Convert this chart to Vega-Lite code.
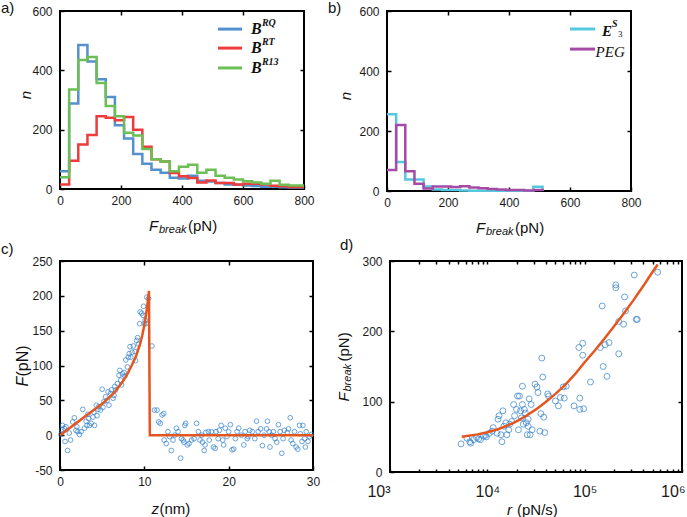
{
"$schema": "https://vega.github.io/schema/vega-lite/v6.json",
"background": "white",
"padding": 0,
"config": {
  "view": {"stroke": "#000", "strokeWidth": 2},
  "font": "Liberation Sans",
  "axis": {"domain": false, "grid": false, "tickColor": "#000", "tickWidth": 1.5, "tickSize": -4, "labelFont": "Liberation Sans", "labelFontSize": 12, "labelColor": "#1a1a1a", "labelFlush": false, "labelOverlap": false},
  "axisX": {"labelPadding": 10},
  "axisY": {"labelPadding": 12}
},
"datasets": {
  "histA": [
    {"s":"RQ","x":0,"n":60},{"s":"RQ","x":30,"n":288},{"s":"RQ","x":60,"n":485},{"s":"RQ","x":90,"n":430},{"s":"RQ","x":120,"n":370},{"s":"RQ","x":150,"n":310},{"s":"RQ","x":180,"n":215},{"s":"RQ","x":210,"n":170},{"s":"RQ","x":240,"n":118},{"s":"RQ","x":270,"n":85},{"s":"RQ","x":300,"n":65},{"s":"RQ","x":330,"n":55},{"s":"RQ","x":360,"n":38},{"s":"RQ","x":390,"n":35},{"s":"RQ","x":420,"n":45},{"s":"RQ","x":450,"n":28},{"s":"RQ","x":480,"n":25},{"s":"RQ","x":510,"n":20},{"s":"RQ","x":540,"n":15},{"s":"RQ","x":570,"n":14},{"s":"RQ","x":600,"n":12},{"s":"RQ","x":630,"n":10},{"s":"RQ","x":660,"n":8},{"s":"RQ","x":690,"n":8},{"s":"RQ","x":720,"n":6},{"s":"RQ","x":750,"n":5},{"s":"RQ","x":780,"n":5},{"s":"RQ","x":800,"n":5},
    {"s":"RT","x":0,"n":15},{"s":"RT","x":30,"n":95},{"s":"RT","x":60,"n":150},{"s":"RT","x":90,"n":182},{"s":"RT","x":120,"n":245},{"s":"RT","x":150,"n":240},{"s":"RT","x":180,"n":232},{"s":"RT","x":210,"n":243},{"s":"RT","x":240,"n":200},{"s":"RT","x":270,"n":142},{"s":"RT","x":300,"n":100},{"s":"RT","x":330,"n":93},{"s":"RT","x":360,"n":54},{"s":"RT","x":390,"n":43},{"s":"RT","x":420,"n":37},{"s":"RT","x":450,"n":22},{"s":"RT","x":480,"n":29},{"s":"RT","x":510,"n":20},{"s":"RT","x":540,"n":20},{"s":"RT","x":570,"n":15},{"s":"RT","x":600,"n":18},{"s":"RT","x":630,"n":18},{"s":"RT","x":660,"n":15},{"s":"RT","x":690,"n":11},{"s":"RT","x":720,"n":9},{"s":"RT","x":750,"n":7},{"s":"RT","x":780,"n":7},{"s":"RT","x":800,"n":7},
    {"s":"R13","x":0,"n":40},{"s":"R13","x":30,"n":335},{"s":"R13","x":60,"n":435},{"s":"R13","x":90,"n":445},{"s":"R13","x":120,"n":357},{"s":"R13","x":150,"n":280},{"s":"R13","x":180,"n":245},{"s":"R13","x":210,"n":190},{"s":"R13","x":240,"n":180},{"s":"R13","x":270,"n":135},{"s":"R13","x":300,"n":100},{"s":"R13","x":330,"n":93},{"s":"R13","x":360,"n":60},{"s":"R13","x":390,"n":75},{"s":"R13","x":420,"n":82},{"s":"R13","x":450,"n":55},{"s":"R13","x":480,"n":65},{"s":"R13","x":510,"n":45},{"s":"R13","x":540,"n":38},{"s":"R13","x":570,"n":32},{"s":"R13","x":600,"n":26},{"s":"R13","x":630,"n":22},{"s":"R13","x":660,"n":18},{"s":"R13","x":690,"n":28},{"s":"R13","x":720,"n":14},{"s":"R13","x":750,"n":12},{"s":"R13","x":780,"n":12},{"s":"R13","x":800,"n":12}
  ],
  "legendA": [{"s":"RQ","y":539,"sup":"RQ"},{"s":"RT","y":475,"sup":"RT"},{"s":"R13","y":408,"sup":"R13"}],
  "histB": [
    {"t":"E","x":0,"n":256},{"t":"E","x":30,"n":97},{"t":"E","x":60,"n":38},{"t":"E","x":90,"n":38},{"t":"E","x":120,"n":15},{"t":"E","x":150,"n":5},{"t":"E","x":180,"n":3},{"t":"E","x":210,"n":3},{"t":"E","x":240,"n":2},{"t":"E","x":270,"n":1},{"t":"E","x":300,"n":1},{"t":"E","x":330,"n":1},{"t":"E","x":360,"n":1},{"t":"E","x":390,"n":1},{"t":"E","x":420,"n":1},{"t":"E","x":450,"n":1},{"t":"E","x":480,"n":14},{"t":"E","x":510,"n":0},
    {"t":"PEG","x":0,"n":70},{"t":"PEG","x":30,"n":220},{"t":"PEG","x":60,"n":66},{"t":"PEG","x":90,"n":24},{"t":"PEG","x":120,"n":8},{"t":"PEG","x":150,"n":15},{"t":"PEG","x":180,"n":15},{"t":"PEG","x":210,"n":13},{"t":"PEG","x":240,"n":16},{"t":"PEG","x":270,"n":12},{"t":"PEG","x":300,"n":9},{"t":"PEG","x":330,"n":7},{"t":"PEG","x":360,"n":5},{"t":"PEG","x":390,"n":3},{"t":"PEG","x":420,"n":3},{"t":"PEG","x":450,"n":2},{"t":"PEG","x":480,"n":3},{"t":"PEG","x":510,"n":0}
  ],
  "legendB": [{"t":"E","y":540},{"t":"PEG","y":473}],
  "scatC": [
    {"z":0.1,"F":1},{"z":0.2,"F":8},{"z":0.3,"F":14},{"z":0.5,"F":10},{"z":0.6,"F":-9},{"z":0.7,"F":12},{"z":0.9,"F":-22},{"z":1.1,"F":3},{"z":1.25,"F":-7},{"z":1.5,"F":19},{"z":1.7,"F":25},{"z":1.9,"F":7},{"z":2.0,"F":12},{"z":2.1,"F":5},{"z":2.3,"F":1},{"z":2.5,"F":5},{"z":2.7,"F":37},{"z":2.9,"F":10},{"z":3.1,"F":20},{"z":3.2,"F":14},{"z":3.3,"F":30},{"z":3.4,"F":24},{"z":3.5,"F":14},{"z":3.7,"F":17},{"z":3.9,"F":26},{"z":4.0,"F":33},{"z":4.1,"F":14},{"z":4.3,"F":43},{"z":4.4,"F":28},{"z":4.5,"F":37},{"z":4.6,"F":41},{"z":4.8,"F":36},{"z":5.0,"F":66},{"z":5.1,"F":40},{"z":5.2,"F":48},{"z":5.4,"F":55},{"z":5.6,"F":50},{"z":5.7,"F":62},{"z":5.8,"F":43},{"z":6.0,"F":60},{"z":6.1,"F":65},{"z":6.3,"F":53},{"z":6.4,"F":57},{"z":6.5,"F":70},{"z":6.6,"F":65},{"z":6.8,"F":74},{"z":7.0,"F":86},{"z":7.1,"F":93},{"z":7.2,"F":79},{"z":7.3,"F":72},{"z":7.4,"F":88},{"z":7.6,"F":90},{"z":7.7,"F":85},{"z":7.8,"F":108},{"z":8.0,"F":98},{"z":8.1,"F":112},{"z":8.2,"F":117},{"z":8.3,"F":127},{"z":8.4,"F":112},{"z":8.55,"F":119},{"z":8.7,"F":128},{"z":8.9,"F":120},{"z":8.95,"F":107},{"z":9.1,"F":136},{"z":9.2,"F":140},{"z":9.3,"F":131},{"z":9.45,"F":160},{"z":9.5,"F":177},{"z":9.7,"F":175},{"z":9.85,"F":172},{"z":9.9,"F":185},{"z":10.0,"F":160},{"z":10.1,"F":165},{"z":10.2,"F":160},{"z":10.3,"F":198},{"z":10.5,"F":196},{"z":10.9,"F":128},{"z":11.2,"F":36},{"z":11.5,"F":36},{"z":11.7,"F":19},{"z":11.9,"F":17},{"z":12.1,"F":29},{"z":12.3,"F":31},{"z":12.35,"F":-7},{"z":12.6,"F":-12},{"z":12.8,"F":5},{"z":13.0,"F":-2},{"z":13.2,"F":-22},{"z":13.4,"F":-7},{"z":13.6,"F":0},{"z":13.8,"F":10},{"z":14.0,"F":5},{"z":14.3,"F":-33},{"z":14.4,"F":-5},{"z":14.6,"F":-7},{"z":14.8,"F":14},
    {"z":14.9,"F":17},{"z":14.7,"F":-10},{"z":15.1,"F":-14},{"z":15.3,"F":-12},{"z":15.6,"F":-7},{"z":15.9,"F":-5},{"z":16.2,"F":17},{"z":16.4,"F":5},{"z":16.6,"F":-7},{"z":16.8,"F":0},{"z":16.9,"F":-10},{"z":17.1,"F":-22},{"z":17.2,"F":-14},{"z":17.3,"F":4},{"z":17.6,"F":5},{"z":17.7,"F":-7},{"z":17.97,"F":5},{"z":18.2,"F":-17},{"z":18.4,"F":-19},{"z":18.5,"F":5},{"z":18.75,"F":-5},{"z":18.9,"F":7},{"z":19.1,"F":14},{"z":19.3,"F":-7},{"z":19.4,"F":-14},{"z":19.6,"F":10},{"z":19.8,"F":-2},{"z":20.0,"F":5},{"z":20.2,"F":15},{"z":20.4,"F":-21},{"z":20.6,"F":-20},{"z":20.8,"F":-5},{"z":21.0,"F":5},{"z":21.2,"F":10},{"z":21.5,"F":0},{"z":21.8,"F":-14},{"z":21.95,"F":5},{"z":22.2,"F":-5},{"z":22.3,"F":-2},{"z":22.5,"F":7},{"z":22.8,"F":5},{"z":23.1,"F":-5},{"z":23.3,"F":20},{"z":23.5,"F":5},{"z":23.8,"F":9},{"z":24.0,"F":-15},{"z":24.2,"F":0},{"z":24.5,"F":9},{"z":24.6,"F":20},{"z":24.8,"F":5},{"z":24.9,"F":-17},{"z":25.1,"F":0},{"z":25.3,"F":5},{"z":25.5,"F":-5},{"z":25.7,"F":-10},{"z":25.9,"F":15},{"z":26.1,"F":5},{"z":26.3,"F":-26},{"z":26.45,"F":-5},{"z":26.6,"F":7},{"z":26.95,"F":4},{"z":27.1,"F":9},{"z":27.3,"F":25},{"z":27.4,"F":-7},{"z":27.6,"F":-12},{"z":27.8,"F":5},{"z":28.0,"F":-17},{"z":28.2,"F":-20},{"z":28.4,"F":14},{"z":28.5,"F":2},{"z":28.7,"F":-9},{"z":28.8,"F":14},{"z":29.0,"F":-5},{"z":29.1,"F":-17},{"z":29.2,"F":5},{"z":29.4,"F":-9},{"z":29.6,"F":-2},{"z":29.8,"F":1}
  ],
  "fitC": [
    {"z":0,"F":0},{"z":1,"F":9},{"z":2,"F":18},{"z":3,"F":27},{"z":4,"F":36},{"z":5,"F":45},{"z":6,"F":56},{"z":6.5,"F":62},{"z":7,"F":70},{"z":7.5,"F":78},{"z":8,"F":88},{"z":8.5,"F":100},{"z":9,"F":113},{"z":9.5,"F":131},{"z":9.75,"F":143},{"z":10,"F":158},{"z":10.25,"F":177},{"z":10.4,"F":191},{"z":10.55,"F":207},{"z":10.65,"F":0},{"z":30,"F":0}
  ],
  "scatD": [
    {"r":5370,"F":40},{"r":6170,"F":48},{"r":6610,"F":43},{"r":6760,"F":41},{"r":7240,"F":46},{"r":7760,"F":49},{"r":8130,"F":47},{"r":8510,"F":46},{"r":9120,"F":51},{"r":9550,"F":52},{"r":9770,"F":50},{"r":10470,"F":55},{"r":11220,"F":58},{"r":11480,"F":63},{"r":12590,"F":55},{"r":12880,"F":75},{"r":13180,"F":80},{"r":13800,"F":53},{"r":14130,"F":43},{"r":14450,"F":87},{"r":14790,"F":65},{"r":15490,"F":70},{"r":15850,"F":53},{"r":16600,"F":60},{"r":16980,"F":68},{"r":17780,"F":72},{"r":18620,"F":96},{"r":19050,"F":80},{"r":19950,"F":89},{"r":20420,"F":108},{"r":20890,"F":60},{"r":21380,"F":108},{"r":21880,"F":87},{"r":22390,"F":77},{"r":22910,"F":96},{"r":22910,"F":122},{"r":23440,"F":68},{"r":23990,"F":89},{"r":24550,"F":84},{"r":25120,"F":70},{"r":25700,"F":53},{"r":26300,"F":75},{"r":26300,"F":65},{"r":26920,"F":104},{"r":27540,"F":53},{"r":28180,"F":96},{"r":28840,"F":60},{"r":30900,"F":125},{"r":32360,"F":121},{"r":33110,"F":113},{"r":34670,"F":58},{"r":35480,"F":83},{"r":36310,"F":162},{"r":37150,"F":135},{"r":38020,"F":78},{"r":38900,"F":56},{"r":41690,"F":111},{"r":42660,"F":108},{"r":50120,"F":101},{"r":53700,"F":94},{"r":56230,"F":106},{"r":60260,"F":121},{"r":61660,"F":105},{"r":64570,"F":122},{"r":77620,"F":94},{"r":87100,"F":177},{"r":89130,"F":105},{"r":89130,"F":89},{"r":95500,"F":183},{"r":95500,"F":166},{"r":97720,"F":90},{"r":114800,"F":128},{"r":144500,"F":177},{"r":151400,"F":236},{"r":154900,"F":150},{"r":162200,"F":181},{"r":169800,"F":136},{"r":177800,"F":184},{"r":208900,"F":266},{"r":208900,"F":262},{"r":223900,"F":168},{"r":223900,"F":214},{"r":251200,"F":210},{"r":257000,"F":249},{"r":263000,"F":229},{"r":323600,"F":280},{"r":338800,"F":217},{"r":346700,"F":217},{"r":562300,"F":284}
  ],
  "fitD": [
    {"r":5458,"F":50},{"r":7943,"F":53.5},{"r":10000,"F":56.5},{"r":12589,"F":60.5},{"r":15849,"F":65.5},{"r":19953,"F":72},{"r":25119,"F":80},{"r":31623,"F":89},{"r":39811,"F":99.5},{"r":50119,"F":111},{"r":63096,"F":124},{"r":79433,"F":139},{"r":100000,"F":156},{"r":125893,"F":172},{"r":158489,"F":189},{"r":199526,"F":207},{"r":251189,"F":225},{"r":316228,"F":244},{"r":398107,"F":264},{"r":501187,"F":285},{"r":562341,"F":295}
  ]
},
"concat": [
 {"concat": [
  {"width": 244, "height": 178,
   "layer": [
    {"data": {"name": "histA"}, "mark": {"type": "line", "interpolate": "step-after", "strokeWidth": 2.5},
     "encoding": {
      "x": {"field": "x", "type": "quantitative", "scale": {"domain": [0, 800], "nice": false, "zero": false}, "axis": {"values": [0,200,400,600,800], "title": null}},
      "y": {"field": "n", "type": "quantitative", "scale": {"domain": [0, 600], "nice": false}, "axis": {"values": [0,200,400,600], "title": null}},
      "color": {"field": "s", "type": "nominal", "scale": {"domain": ["RQ","RT","R13"], "range": ["#5590cf","#ee3b3b","#6cbf55"]}, "legend": null}}},
    {"data": {"name": "histA"}, "mark": {"type": "point", "opacity": 0},
     "encoding": {
      "x": {"field": "x", "type": "quantitative", "axis": {"orient": "top", "labels": false, "values": [200,400,600], "title": null}},
      "y": {"field": "n", "type": "quantitative", "axis": {"orient": "right", "labels": false, "values": [200,400], "title": null}}}},
    {"data": {"name": "legendA"}, "mark": {"type": "rule", "strokeWidth": 3},
     "encoding": {"x": {"datum": 518, "axis": null}, "x2": {"datum": 597}, "y": {"field": "y", "type": "quantitative", "axis": null}, "color": {"field": "s", "type": "nominal", "legend": null}}},
    {"data": {"name": "legendA"}, "mark": {"type": "text", "text": "B", "font": "Liberation Serif", "fontStyle": "italic", "fontWeight": "bold", "fontSize": 16, "align": "left", "baseline": "middle", "color": "#111"},
     "encoding": {"x": {"datum": 626, "axis": null}, "y": {"field": "y", "type": "quantitative", "axis": null}}},
    {"data": {"name": "legendA"}, "mark": {"type": "text", "font": "Liberation Serif", "fontStyle": "italic", "fontWeight": "bold", "fontSize": 10, "align": "left", "baseline": "middle", "dx": 11, "dy": -6, "color": "#111"},
     "encoding": {"x": {"datum": 626, "axis": null}, "y": {"field": "y", "type": "quantitative", "axis": null}, "text": {"field": "sup"}}},
    {"data": {"values": [{}]}, "mark": {"type": "text", "text": "a)", "fontSize": 15, "align": "left", "dx": -59, "dy": -3, "color": "#111"},
     "encoding": {"x": {"datum": 0, "axis": null}, "y": {"datum": 600, "axis": null}}},
    {"data": {"values": [{}]}, "mark": {"type": "text", "text": "n", "fontSize": 15, "fontStyle": "italic", "angle": 270, "align": "center", "dx": 5, "dy": -34, "color": "#111"},
     "encoding": {"x": {"datum": 0, "axis": null}, "y": {"datum": 300, "axis": null}}},
    {"data": {"values": [{}]}, "mark": {"type": "text", "text": "F", "fontSize": 15, "fontStyle": "italic", "align": "left", "dx": -33, "dy": 37, "color": "#111"},
     "encoding": {"x": {"datum": 400, "axis": null}, "y": {"datum": 0, "axis": null}}},
    {"data": {"values": [{}]}, "mark": {"type": "text", "text": "break", "fontSize": 11, "fontStyle": "italic", "align": "left", "dx": -23, "dy": 41, "color": "#111"},
     "encoding": {"x": {"datum": 400, "axis": null}, "y": {"datum": 0, "axis": null}}},
    {"data": {"values": [{}]}, "mark": {"type": "text", "text": "(pN)", "fontSize": 15, "align": "left", "dx": 6, "dy": 37, "color": "#111"},
     "encoding": {"x": {"datum": 400, "axis": null}, "y": {"datum": 0, "axis": null}}}
   ],
   "resolve": {"axis": {"x": "independent", "y": "independent"}}},
  {"width": 244, "height": 180,
   "layer": [
    {"data": {"name": "histB"}, "mark": {"type": "line", "interpolate": "step-after", "strokeWidth": 2.5},
     "encoding": {
      "x": {"field": "x", "type": "quantitative", "scale": {"domain": [0, 800], "nice": false, "zero": false}, "axis": {"values": [0,200,400,600,800], "title": null}},
      "y": {"field": "n", "type": "quantitative", "scale": {"domain": [0, 600], "nice": false}, "axis": {"values": [0,200,400,600], "title": null}},
      "stroke": {"field": "t", "type": "nominal", "scale": {"domain": ["E","PEG"], "range": ["#55c8e0","#a64aa6"]}, "legend": null}}},
    {"data": {"name": "histB"}, "mark": {"type": "point", "opacity": 0},
     "encoding": {
      "x": {"field": "x", "type": "quantitative", "axis": {"orient": "top", "labels": false, "values": [200,400,600], "title": null}},
      "y": {"field": "n", "type": "quantitative", "axis": {"orient": "right", "labels": false, "values": [200,400], "title": null}}}},
    {"data": {"name": "legendB"}, "mark": {"type": "rule", "strokeWidth": 3},
     "encoding": {"x": {"datum": 600, "axis": null}, "x2": {"datum": 682}, "y": {"field": "y", "type": "quantitative", "axis": null}, "stroke": {"field": "t", "type": "nominal", "legend": null}}},
    {"data": {"values": [{}]}, "mark": {"type": "text", "text": "E", "font": "Liberation Serif", "fontStyle": "italic", "fontWeight": "bold", "fontSize": 15, "align": "left", "baseline": "middle", "dy": 2, "color": "#111"},
     "encoding": {"x": {"datum": 705, "axis": null}, "y": {"datum": 540, "axis": null}}},
    {"data": {"values": [{}]}, "mark": {"type": "text", "text": "S", "font": "Liberation Serif", "fontStyle": "italic", "fontWeight": "bold", "fontSize": 10, "align": "left", "baseline": "middle", "dx": 10, "dy": -5, "color": "#111"},
     "encoding": {"x": {"datum": 705, "axis": null}, "y": {"datum": 540, "axis": null}}},
    {"data": {"values": [{}]}, "mark": {"type": "text", "text": "3", "font": "Liberation Serif", "fontSize": 9, "align": "left", "baseline": "middle", "dx": 16, "dy": 5, "color": "#111"},
     "encoding": {"x": {"datum": 705, "axis": null}, "y": {"datum": 540, "axis": null}}},
    {"data": {"values": [{}]}, "mark": {"type": "text", "text": "PEG", "font": "Liberation Serif", "fontStyle": "italic", "fontSize": 15, "align": "left", "baseline": "middle", "dy": 3, "color": "#111"},
     "encoding": {"x": {"datum": 684, "axis": null}, "y": {"datum": 473, "axis": null}}},
    {"data": {"values": [{}]}, "mark": {"type": "text", "text": "b)", "fontSize": 15, "align": "left", "dx": -59, "dy": -3, "color": "#111"},
     "encoding": {"x": {"datum": 0, "axis": null}, "y": {"datum": 600, "axis": null}}},
    {"data": {"values": [{}]}, "mark": {"type": "text", "text": "n", "fontSize": 15, "fontStyle": "italic", "angle": 270, "align": "center", "dx": 5, "dy": -41, "color": "#111"},
     "encoding": {"x": {"datum": 0, "axis": null}, "y": {"datum": 300, "axis": null}}},
    {"data": {"values": [{}]}, "mark": {"type": "text", "text": "F", "fontSize": 15, "fontStyle": "italic", "align": "left", "dx": -33, "dy": 37, "color": "#111"},
     "encoding": {"x": {"datum": 400, "axis": null}, "y": {"datum": 0, "axis": null}}},
    {"data": {"values": [{}]}, "mark": {"type": "text", "text": "break", "fontSize": 11, "fontStyle": "italic", "align": "left", "dx": -23, "dy": 41, "color": "#111"},
     "encoding": {"x": {"datum": 400, "axis": null}, "y": {"datum": 0, "axis": null}}},
    {"data": {"values": [{}]}, "mark": {"type": "text", "text": "(pN)", "fontSize": 15, "align": "left", "dx": 6, "dy": 37, "color": "#111"},
     "encoding": {"x": {"datum": 400, "axis": null}, "y": {"datum": 0, "axis": null}}}
   ],
   "resolve": {"axis": {"x": "independent", "y": "independent"}}}
 ], "align": "none", "spacing": 11},
 {"concat": [
  {"width": 253, "height": 209,
   "layer": [
    {"data": {"name": "scatC"}, "mark": {"type": "point", "filled": false, "size": 22, "strokeWidth": 1, "color": "#2b7dcc"},
     "encoding": {
      "x": {"field": "z", "type": "quantitative", "scale": {"domain": [0, 30], "nice": false, "zero": false}, "axis": {"values": [0,10,20,30], "title": null}},
      "y": {"field": "F", "type": "quantitative", "scale": {"domain": [-50, 250], "nice": false, "zero": false}, "axis": {"values": [-50,0,50,100,150,200,250], "labelExpr": "'' + datum.value", "title": null}}}},
    {"data": {"name": "fitC"}, "mark": {"type": "line", "strokeWidth": 2.5, "color": "#e4561f"},
     "encoding": {
      "x": {"field": "z", "type": "quantitative", "axis": {"orient": "top", "labels": false, "values": [10,20], "title": null}},
      "y": {"field": "F", "type": "quantitative", "axis": {"orient": "right", "labels": false, "values": [0,50,100,150,200], "title": null}}}},
    {"data": {"values": [{}]}, "mark": {"type": "text", "text": "c)", "fontSize": 15, "align": "left", "dx": -59, "dy": -12, "color": "#111"},
     "encoding": {"x": {"datum": 0, "axis": null}, "y": {"datum": 250, "axis": null}}},
    {"data": {"values": [{}]}, "mark": {"type": "text", "text": "z", "fontSize": 15, "fontStyle": "italic", "align": "left", "dx": -35, "dy": 39, "color": "#111"},
     "encoding": {"x": {"datum": 15, "axis": null}, "y": {"datum": -50, "axis": null}}},
    {"data": {"values": [{}]}, "mark": {"type": "text", "text": "(nm)", "fontSize": 15, "align": "left", "dx": -27, "dy": 39, "color": "#111"},
     "encoding": {"x": {"datum": 15, "axis": null}, "y": {"datum": -50, "axis": null}}},
    {"data": {"values": [{}]}, "mark": {"type": "text", "text": "F", "fontSize": 16, "fontStyle": "italic", "angle": 270, "align": "left", "dx": -21, "dy": -37, "color": "#111"},
     "encoding": {"x": {"datum": 0, "axis": null}, "y": {"datum": 100, "axis": null}}},
    {"data": {"values": [{}]}, "mark": {"type": "text", "text": "(pN)", "fontSize": 16, "angle": 270, "align": "left", "dx": -11, "dy": -37, "color": "#111"},
     "encoding": {"x": {"datum": 0, "axis": null}, "y": {"datum": 100, "axis": null}}}
   ],
   "resolve": {"axis": {"x": "independent", "y": "independent"}}},
  {"width": 292, "height": 211,
   "layer": [
    {"data": {"name": "scatD"}, "mark": {"type": "point", "filled": false, "size": 35, "strokeWidth": 1, "color": "#2b7dcc"},
     "encoding": {
      "x": {"field": "r", "type": "quantitative", "scale": {"type": "log", "domain": [1000, 1000000], "nice": false}, "axis": {"values": [1000,2000,3000,4000,5000,6000,7000,8000,9000,10000,20000,30000,40000,50000,60000,70000,80000,90000,100000,200000,300000,400000,500000,600000,700000,800000,900000,1000000], "labelExpr": "datum.value == 1000 ? '10³' : datum.value == 10000 ? '10⁴' : datum.value == 100000 ? '10⁵' : datum.value == 1000000 ? '10⁶' : ''", "labelFontSize": 16, "labelPadding": 14, "tickSize": -3, "labelAlign": {"condition": {"test": "datum.value == 1000 || datum.value == 1000000", "value": "right"}, "value": "center"}, "labelOffset": {"condition": {"test": "datum.value == 1000000", "value": 3}, "value": 0}, "title": null}},
      "y": {"field": "F", "type": "quantitative", "scale": {"domain": [0, 300], "nice": false}, "axis": {"values": [0,100,200,300], "title": null}}}},
    {"data": {"name": "fitD"}, "mark": {"type": "line", "strokeWidth": 2.5, "color": "#e4561f"},
     "encoding": {
      "x": {"field": "r", "type": "quantitative", "axis": {"orient": "top", "labels": false, "tickSize": -3, "values": [2000,3000,4000,5000,6000,7000,8000,9000,10000,20000,30000,40000,50000,60000,70000,80000,90000,100000,200000,300000,400000,500000,600000,700000,800000,900000], "title": null}},
      "y": {"field": "F", "type": "quantitative", "axis": {"orient": "right", "labels": false, "values": [100,200], "title": null}}}},
    {"data": {"values": [{}]}, "mark": {"type": "text", "text": "d)", "fontSize": 15, "align": "left", "dx": -50, "dy": -16, "color": "#111"},
     "encoding": {"x": {"datum": 1000, "axis": null}, "y": {"datum": 300, "axis": null}}},
    {"data": {"values": [{}]}, "mark": {"type": "text", "text": "r", "fontSize": 15, "fontStyle": "italic", "align": "left", "dx": -29, "dy": 38, "color": "#111"},
     "encoding": {"x": {"datum": 31623, "axis": null}, "y": {"datum": 0, "axis": null}}},
    {"data": {"values": [{}]}, "mark": {"type": "text", "text": "(pN/s)", "fontSize": 15, "align": "left", "dx": -19, "dy": 38, "color": "#111"},
     "encoding": {"x": {"datum": 31623, "axis": null}, "y": {"datum": 0, "axis": null}}},
    {"data": {"values": [{}]}, "mark": {"type": "text", "text": "F", "fontSize": 15, "fontStyle": "italic", "angle": 270, "align": "left", "dx": -35, "dy": -46, "color": "#111"},
     "encoding": {"x": {"datum": 1000, "axis": null}, "y": {"datum": 150, "axis": null}}},
    {"data": {"values": [{}]}, "mark": {"type": "text", "text": "break", "fontSize": 11, "fontStyle": "italic", "angle": 270, "align": "left", "dx": -25, "dy": -42, "color": "#111"},
     "encoding": {"x": {"datum": 1000, "axis": null}, "y": {"datum": 150, "axis": null}}},
    {"data": {"values": [{}]}, "mark": {"type": "text", "text": "(pN)", "fontSize": 15, "angle": 270, "align": "left", "dx": 5, "dy": -46, "color": "#111"},
     "encoding": {"x": {"datum": 1000, "axis": null}, "y": {"datum": 150, "axis": null}}}
   ],
   "resolve": {"axis": {"x": "independent", "y": "independent"}}}
 ], "align": "none", "spacing": 14}
],
"columns": 1,
"align": "none",
"spacing": -1
}
